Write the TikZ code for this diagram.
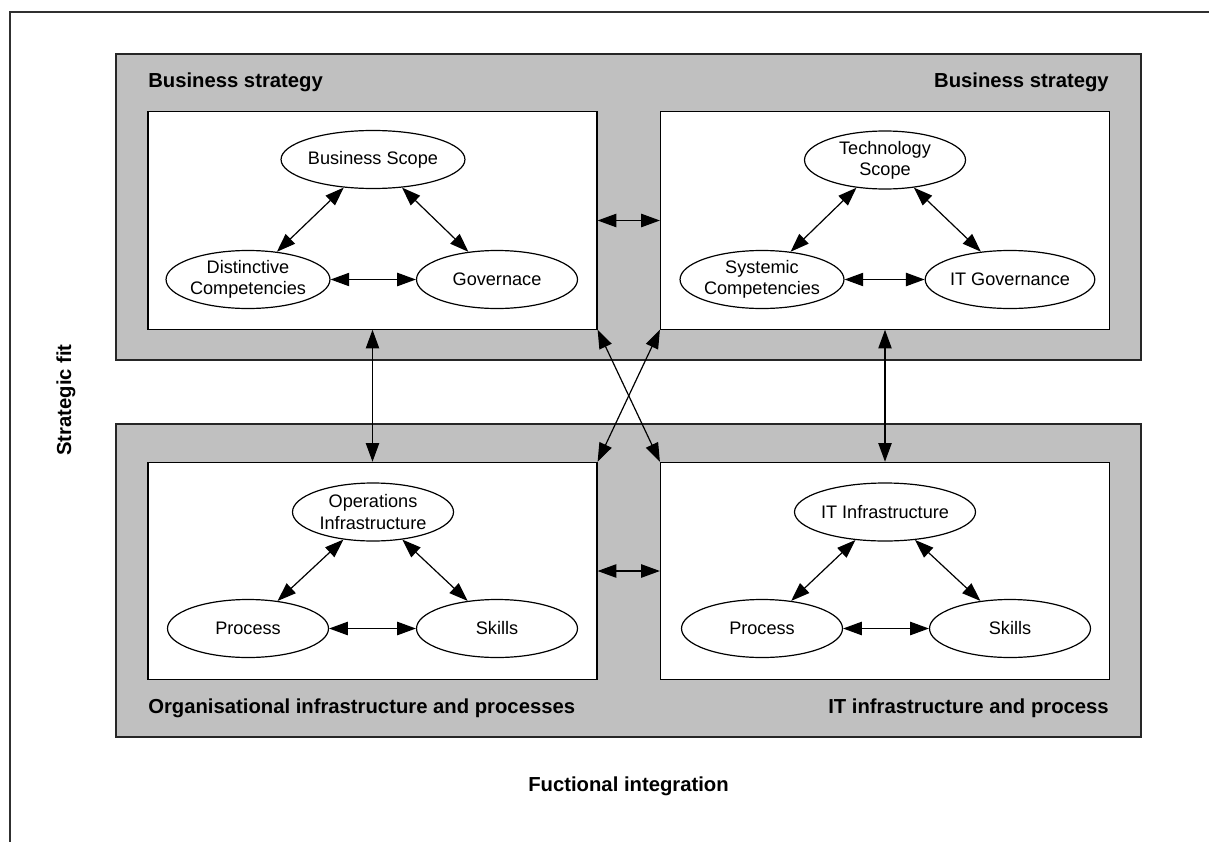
\documentclass[tikz,border=0pt]{standalone}
\usepackage{fontspec}
\setmainfont{Liberation Sans}
\usepackage{xcolor}
\usepackage{tikz}
\usetikzlibrary{positioning,arrows.meta,shapes.geometric}
\definecolor{panelgray}{HTML}{C0C0C0}
\definecolor{framegray}{HTML}{303030}
\tikzset{
  panel/.style={draw=black!85, line width=0.9pt, fill=panelgray},
  box/.style={draw=black, line width=0.9pt, fill=white, minimum width=336.75pt, minimum height=163pt, inner sep=0pt},
  oval/.style={draw, ellipse, line width=0.9pt, fill=white, minimum width=120.75pt, minimum height=43.5pt, inner sep=0pt, align=center, font=\fontsize{13.6}{15.8}\selectfont},
  lbl/.style={inner sep=0pt, font=\fontsize{15.2}{17}\selectfont\bfseries},
  arr/.style={{Triangle[length=14pt,width=10pt]}-{Triangle[length=14pt,width=10pt]}, line width=0.9pt},
}
\begin{document}
\begin{tikzpicture}[x=0.75pt, y=-0.75pt]
\useasboundingbox (0,0) rectangle (1209,842);
\draw[framegray, line width=1.5pt] (1209,12) -- (10,12) -- (10,842);
% grey panels
\draw[panel] (116,54) rectangle (1141,360);
\draw[panel] (116,424) rectangle (1141,737);
\node[box] (bsL) at (372.5,220.5) {};
\node[box] (bsR) at (885,220.5) {};
\node[box] (oiL) at (372.5,571) {};
\node[box] (itR) at (885,571) {};
\node[lbl, anchor=base west] (tl) at (148,88) {Business strategy};
\node[lbl, anchor=base east] (tr) at (1109,88) {Business strategy};
\node[lbl, anchor=base west] (bl) at (148,713) {Organisational infrastructure and processes};
\node[lbl, anchor=base east] (br) at (1109,713) {IT infrastructure and process};
\node[lbl, rotate=90] (fit) at (66,400) {Strategic fit};
\node[lbl, anchor=base] (integ) at (628.5,791) {Fuctional integration};
% ellipses
\node[oval] (bscope) at (373,159.5) {Business Scope};
\node[oval] (dcomp) at (248,279.5) {Distinctive\\Competencies};
\node[oval] (gov) at (497,279.5) {Governace};
\node[oval] (tscope) at (885,160) {Technology\\Scope};
\node[oval] (scomp) at (762,279.5) {Systemic\\Competencies};
\node[oval] (itgov) at (1010,279.5) {IT Governance};
\node[oval] (opinf) at (373,512) {Operations\\Infrastructure};
\node[oval] (procL) at (248,628.5) {Process};
\node[oval] (skillL) at (497,628.5) {Skills};
\node[oval] (itinf) at (885,512) {IT Infrastructure};
\node[oval] (procR) at (762,628.5) {Process};
\node[oval] (skillR) at (1010,628.5) {Skills};
\draw[arr] (bscope)--(dcomp); \draw[arr] (bscope)--(gov); \draw[arr] (dcomp)--(gov);
\draw[arr] (tscope)--(scomp); \draw[arr] (tscope)--(itgov); \draw[arr] (scomp)--(itgov);
\draw[arr] (opinf)--(procL); \draw[arr] (opinf)--(skillL); \draw[arr] (procL)--(skillL);
\draw[arr] (itinf)--(procR); \draw[arr] (itinf)--(skillR); \draw[arr] (procR)--(skillR);
% links between boxes
\draw[arr] (bsL)--(bsR); \draw[arr] (oiL)--(itR);
\draw[arr] (bsL.south)--(oiL.north); \draw[arr] (bsR.south)--(itR.north);
\draw[arr] (bsL.south east)--(itR.north west); \draw[arr] (bsR.south west)--(oiL.north east);
\end{tikzpicture}
\end{document}
